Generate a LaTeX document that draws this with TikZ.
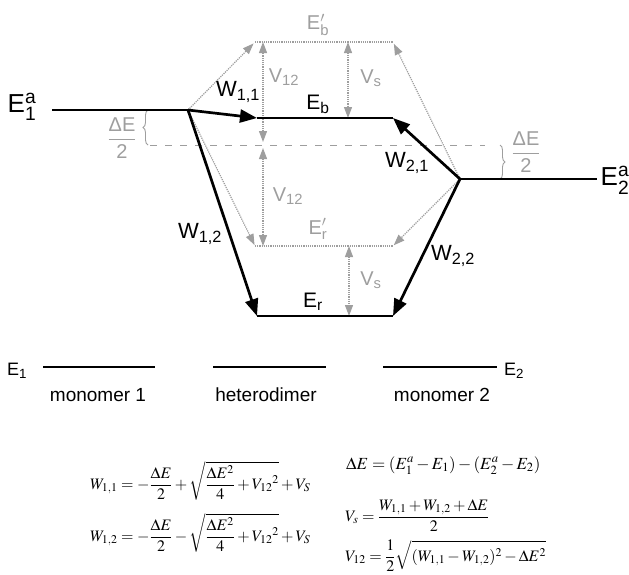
\documentclass[tikz,border=0pt]{standalone}
\usepackage{amsmath}
\usepackage{mathptmx}
\usepackage[no-math]{fontspec}
\setmainfont{Liberation Sans}
\usetikzlibrary{arrows.meta,decorations.pathreplacing}
\definecolor{lg}{gray}{0.62}
\begin{document}
\begin{tikzpicture}[x=1pt,y=-1pt,
  blk/.style={line width=2.7pt, draw=black},
  blkarr/.style={blk, -{Triangle[length=17pt,width=13pt]}},
  grl/.style={draw=lg, line width=1.2pt, densely dotted},
  grarr/.style={grl, -{Triangle[length=11pt,width=8pt]}},
  grdbl/.style={grl, {Triangle[length=11pt,width=8pt]}-{Triangle[length=11pt,width=8pt]}},
  grdash/.style={draw=lg, line width=1pt, dash pattern=on 7pt off 8pt},
  brc/.style={draw=lg, line width=0.9pt, decorate, decoration={brace, amplitude=5pt}},
  lab/.style={font=\fontsize{19}{22}\selectfont, inner sep=0pt},
  wlab/.style={font=\fontsize{22}{25}\selectfont, inner sep=0pt},
  glab/.style={font=\fontsize{20}{23}\selectfont, inner sep=0pt, text=lg},
  eqn/.style={anchor=base west, inner sep=0pt},
]
\useasboundingbox (0,0) rectangle (629,574);
% key points
\coordinate (P1) at (188,110);
\coordinate (P2) at (460,179);
\coordinate (A1) at (52,110);
\coordinate (A2) at (597,179);
\coordinate (B1) at (257,118);
\coordinate (B2) at (393,118);
\coordinate (R1) at (257,316);
\coordinate (R2) at (393,316);
\coordinate (PB1) at (255,42);
\coordinate (PB2) at (393,42);
\coordinate (PR1) at (255,246);
\coordinate (PR2) at (393,246);
\coordinate (D1) at (150,145);
\coordinate (D2) at (485,145);
\coordinate (M1) at (263,145);
\coordinate (U1) at (263,42);
\coordinate (U2) at (263,246);
\coordinate (S1) at (348,42);
\coordinate (S2) at (348,118);
\coordinate (S3) at (349,246);
\coordinate (S4) at (349,316);
\coordinate (L1a) at (43,367);
\coordinate (L1b) at (155,367);
\coordinate (L2a) at (213,367);
\coordinate (L2b) at (326,367);
\coordinate (L3a) at (383,367);
\coordinate (L3b) at (497,367);
\coordinate (BR1a) at (148,145);
\coordinate (BR1b) at (148,110);
\coordinate (BR2a) at (500,145);
\coordinate (BR2b) at (500,179);
% gray construction
\draw[grdash] (D1) -- (D2);
\draw[grl] (PB1) -- (PB2);
\draw[grl] (PR1) -- (PR2);
\draw[grarr, shorten >=2pt] (P1) -- (PB1);
\draw[grarr, shorten >=2pt] (P2) -- (PB2);
\draw[grarr, shorten >=1pt] (P1) -- (PR1);
\draw[grarr, shorten >=1pt] (P2) -- (PR2);
\draw[grdbl, shorten <=3pt] (M1) -- (U1);
\draw[grdbl, shorten <=3pt] (M1) -- (U2);
\draw[grdbl] (S1) -- (S2);
\draw[grdbl] (S3) -- (S4);
\draw[brc] (BR1a) -- (BR1b);
\draw[brc] (BR2a) -- (BR2b);
% black levels and arrows
\draw[blk] (A1) -- (P1);
\draw[blk] (P2) -- (A2);
\draw[blk] (B1) -- (B2);
\draw[blk] (R1) -- (R2);
\draw[blkarr] (P1) -- (B1);
\draw[blkarr] (P2) -- (B2);
\draw[blkarr] (P1) -- (R1);
\draw[blkarr] (P2) -- (R2);
\draw[blk] (L1a) -- (L1b);
\draw[blk] (L2a) -- (L2b);
\draw[blk] (L3a) -- (L3b);
% labels
\node[lab, font=\fontsize{26}{28}\selectfont] (e1a) at (22,107) {E$^{\text{a}}_{\text{1}}$};
\node[lab, font=\fontsize{26}{28}\selectfont] (e2a) at (615,180) {E$^{\text{a}}_{\text{2}}$};
\node[wlab] (w11) at (238,92) {W$_{\text{1,1}}$};
\node[wlab] (w12) at (200,234) {W$_{\text{1,2}}$};
\node[wlab] (w21) at (407,163) {W$_{\text{2,1}}$};
\node[wlab] (w22) at (453,256) {W$_{\text{2,2}}$};
\node[lab, font=\fontsize{21}{24}\selectfont] (eb) at (318,104) {E$_{\text{b}}$};
\node[lab, font=\fontsize{21}{24}\selectfont] (er) at (313,302) {E$_{\text{r}}$};
\node[glab] (epb) at (318,25) {E$'_{\text{b}}$};
\node[glab] (epr) at (318,229) {E$'_{\text{r}}$};
\node[glab] (v12a) at (284,77) {V$_{\text{12}}$};
\node[glab] (v12b) at (288,196) {V$_{\text{12}}$};
\node[glab] (vsa) at (371,78) {V$_{\text{s}}$};
\node[glab] (vsb) at (371,280) {V$_{\text{s}}$};
\node[glab] (de1) at (122,138) {$\dfrac{\text{ΔE}}{\text{2}}$};
\node[glab] (de2) at (526,152) {$\dfrac{\text{ΔE}}{\text{2}}$};
\node[lab, font=\fontsize{18}{20}\selectfont] (e1) at (17,371) {E$_{\text{1}}$};
\node[lab, font=\fontsize{18}{20}\selectfont] (e2) at (514,371) {E$_{\text{2}}$};
\node[lab] (m1) at (98,395) {monomer 1};
\node[lab] (hd) at (266,395) {heterodimer};
\node[lab] (m2) at (442,395) {monomer 2};
% equations
\node[eqn, font=\fontsize{16}{19}\selectfont] (eqA) at (90,489) {$\displaystyle W_{1,1} = -\frac{\Delta E}{2} + \sqrt{\frac{\Delta E^2}{4} + {V_{12}}^2} + V_S$};
\node[eqn, font=\fontsize{16}{19}\selectfont] (eqB) at (90,541) {$\displaystyle W_{1,2} = -\frac{\Delta E}{2} - \sqrt{\frac{\Delta E^2}{4} + {V_{12}}^2} + V_S$};
\node[eqn, font=\fontsize{17}{19}\selectfont] (eqC) at (346,469) {$\Delta E = (E_1^a - E_1) - (E_2^a - E_2)$};
\node[eqn, font=\fontsize{16}{19}\selectfont] (eqD) at (345,521) {$\displaystyle V_s = \frac{W_{1,1} + W_{1,2} + \Delta E}{2}$};
\node[eqn, font=\fontsize{16}{19}\selectfont] (eqE) at (345,561) {$\displaystyle V_{12} = \frac{1}{2}\sqrt{(W_{1,1} - W_{1,2})^2 - \Delta E^2}$};
\end{tikzpicture}
\end{document}
